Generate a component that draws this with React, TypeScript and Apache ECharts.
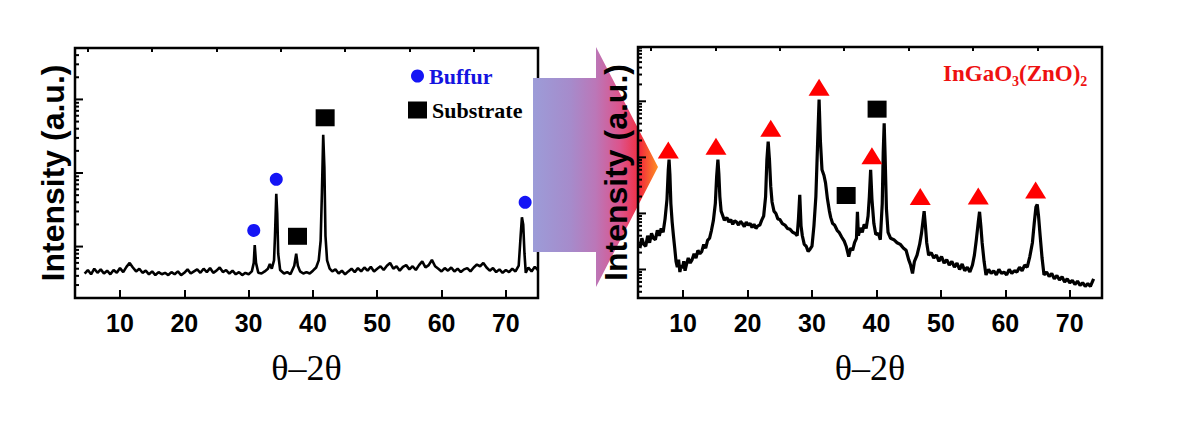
import React, { useEffect, useRef } from "react";
import * as echarts from "echarts";

// ---------- data (2θ in degrees, intensity in a.u.) ----------
const xMajorTicks = [10, 20, 30, 40, 50, 60, 70];
const xMinorTicks = [5, 15, 25, 35, 45, 55, 65];

const leftMajorY = [10, 100, 1000];
const leftMinorY = [3, 4, 5, 6, 7, 8, 9, 20, 30, 40, 50, 60, 70, 80, 90, 200, 300, 400, 500, 600, 700, 800, 900, 2000, 3000, 4000];
const rightMajorY = [10, 100, 1000, 10000];
const rightMinorY = [4, 5, 6, 7, 8, 9, 20, 30, 40, 50, 60, 70, 80, 90, 200, 300, 400, 500, 600, 700, 800, 900, 2000, 3000, 4000, 5000, 6000, 7000, 8000, 9000, 20000, 30000, 40000, 50000, 60000, 70000, 80000, 90000];

const bufferPattern = [
  [4.5, 4.3], [5, 4.8], [5.5, 4.2], [6, 5.0], [6.5, 4.4], [7, 4.9], [7.5, 4.3], [8, 4.7], [8.5, 4.2], [9, 4.8],
  [9.5, 4.4], [10, 5.1], [10.5, 4.5], [11, 5.3], [11.5, 6.0], [12, 5.2], [12.5, 4.6], [13, 5.0], [13.5, 4.4], [14, 4.7],
  [14.5, 4.2], [15, 4.6], [15.5, 4.1], [16, 4.5], [16.5, 4.2], [17, 4.4], [17.5, 4.1], [18, 4.5], [18.5, 4.2], [19, 4.6],
  [19.5, 4.1], [20, 4.4], [20.5, 4.9], [21, 4.3], [21.5, 4.6], [22, 4.9], [22.5, 4.4], [23, 5.0], [23.5, 4.5], [24, 5.1],
  [24.5, 4.4], [25, 4.7], [25.5, 5.2], [26, 4.5], [26.5, 4.8], [27, 4.3], [27.5, 4.7], [28, 4.2], [28.5, 4.5], [29, 4.1],
  [29.5, 4.4], [30, 4.2], [30.5, 4.6], [30.8, 6], [30.95, 10.5], [31.15, 6], [31.5, 4.4], [32, 4.3], [32.5, 4.6], [33, 5.0],
  [33.3, 5.8], [33.6, 5.0], [33.95, 6.5], [34.1, 14], [34.3, 52], [34.45, 28], [34.6, 8], [34.9, 4.8], [35.5, 4.3], [36, 4.5],
  [36.5, 4.2], [37.1, 5.5], [37.4, 8.0], [37.65, 5.5], [38, 4.6], [38.5, 4.3], [39, 4.5], [39.5, 4.3], [40, 4.7], [40.5, 5.2],
  [40.9, 6.5], [41.2, 12], [41.4, 55], [41.6, 330], [41.78, 120], [41.95, 14], [42.2, 6.5], [42.6, 5.0], [43, 4.6], [43.5, 4.9],
  [44, 4.3], [44.5, 4.7], [45, 4.2], [45.5, 4.6], [46, 5.0], [46.5, 4.5], [47, 5.1], [47.5, 4.6], [48, 5.2], [48.5, 4.7],
  [49, 5.3], [49.5, 4.6], [50, 5.0], [50.5, 5.4], [51, 4.8], [51.5, 5.5], [52, 6.0], [52.5, 5.0], [53, 5.4], [53.5, 4.7],
  [54, 5.3], [54.5, 5.6], [55, 4.9], [55.5, 5.4], [56, 4.8], [56.5, 5.6], [57, 6.3], [57.5, 5.2], [58, 5.6], [58.5, 6.6],
  [59, 5.4], [59.5, 5.0], [60, 4.6], [60.5, 5.1], [61, 4.7], [61.5, 5.2], [62, 4.6], [62.5, 5.0], [63, 4.5], [63.5, 4.9],
  [64, 5.1], [64.5, 4.6], [65, 5.2], [65.5, 5.7], [66, 5.4], [66.5, 6.0], [67, 5.2], [67.5, 4.7], [68, 5.1], [68.5, 4.5],
  [69, 4.9], [69.5, 4.4], [70, 4.8], [70.5, 4.5], [71, 5.0], [71.5, 4.6], [72, 5.5], [72.3, 14], [72.5, 25], [72.7, 20],
  [72.9, 8], [73.1, 4.4], [73.5, 5.2], [74, 4.6], [74.5, 5.3], [75, 4.8]
];

const igzoPattern = [
  [3.3, 24], [3.6, 36], [3.9, 28], [4.2, 26], [4.5, 40], [4.8, 30], [5.1, 44], [5.4, 36], [5.7, 34], [6.0, 50],
  [6.3, 40], [6.6, 54], [6.9, 46], [7.2, 80], [7.5, 180], [7.7, 600], [7.82, 910], [7.95, 500], [8.1, 150], [8.3, 70],
  [8.5, 40], [8.7, 24], [8.9, 14], [9.1, 11], [9.3, 15], [9.5, 9], [9.7, 12], [9.9, 10.5], [10.1, 14], [10.3, 9.5],
  [10.5, 12], [10.8, 16], [11.1, 13], [11.4, 15], [11.7, 19], [12.0, 16], [12.3, 22], [12.6, 19], [12.9, 21], [13.2, 28],
  [13.5, 24], [13.8, 33], [14.1, 36], [14.4, 50], [14.7, 75], [15.0, 150], [15.2, 450], [15.4, 910], [15.55, 500], [15.7, 200],
  [15.9, 110], [16.1, 95], [16.4, 76], [16.8, 84], [17.1, 70], [17.4, 78], [17.7, 64], [18.0, 74], [18.3, 70], [18.6, 62],
  [18.9, 72], [19.2, 66], [19.5, 58], [19.8, 70], [20.1, 62], [20.4, 66], [20.7, 56], [21.0, 64], [21.3, 54], [21.6, 60],
  [21.9, 62], [22.2, 76], [22.5, 90], [22.8, 200], [23.0, 900], [23.2, 1900], [23.4, 900], [23.6, 300], [23.8, 160], [24.1, 110],
  [24.4, 100], [24.7, 80], [25.0, 78], [25.4, 66], [25.8, 62], [26.2, 54], [26.6, 52], [27.0, 46], [27.4, 44], [27.7, 40],
  [27.9, 80], [28.1, 214], [28.3, 60], [28.5, 40], [28.8, 28], [29.1, 26], [29.4, 21], [29.7, 23], [30.0, 26], [30.3, 60],
  [30.6, 200], [30.85, 1500], [31.1, 10700], [31.3, 2000], [31.55, 600], [31.85, 480], [32.1, 350], [32.4, 180], [32.7, 110], [32.9, 85],
  [33.2, 66], [33.5, 62], [33.9, 50], [34.2, 46], [34.6, 38], [35.0, 32], [35.3, 26], [35.7, 17], [36.0, 24], [36.3, 22],
  [36.6, 30], [36.9, 36], [37.05, 107], [37.2, 40], [37.5, 55], [37.8, 46], [38.1, 64], [38.4, 54], [38.7, 90], [38.9, 200],
  [39.1, 600], [39.3, 180], [39.6, 66], [39.9, 42], [40.3, 44], [40.6, 34], [40.9, 150], [41.05, 1200], [41.2, 4070], [41.35, 1000],
  [41.55, 120], [41.8, 46], [42.2, 36], [42.7, 34], [43.2, 30], [43.7, 28], [44.2, 24], [44.6, 22], [45.0, 15], [45.3, 12],
  [45.6, 8.5], [45.9, 14], [46.3, 18], [46.7, 28], [47.0, 45], [47.2, 70], [47.4, 110], [47.6, 60], [47.8, 30], [48.1, 18],
  [48.5, 20], [48.9, 16], [49.3, 18], [49.7, 14], [50.1, 17], [50.5, 13], [50.9, 15], [51.3, 12], [51.7, 14], [52.1, 11],
  [52.5, 13], [52.9, 10], [53.3, 12.5], [53.7, 9.5], [54.1, 11], [54.5, 9], [54.9, 12], [55.2, 18], [55.5, 34], [55.8, 70],
  [56.0, 107], [56.2, 60], [56.4, 30], [56.7, 14], [57.0, 8], [57.4, 10], [57.8, 8.5], [58.2, 9.5], [58.6, 8], [59.0, 10],
  [59.4, 8.5], [59.8, 9], [60.2, 8], [60.6, 10], [61.0, 8.5], [61.4, 9.5], [61.8, 9], [62.2, 11], [62.6, 9.5], [63.0, 12],
  [63.4, 11], [63.8, 17], [64.2, 30], [64.5, 70], [64.75, 130], [64.95, 145], [65.15, 90], [65.4, 40], [65.7, 16], [66.0, 8],
  [66.4, 9], [66.8, 7.5], [67.2, 8.5], [67.6, 6.8], [68.0, 7.8], [68.4, 6.5], [68.8, 7.4], [69.2, 6], [69.6, 6.8], [70.0, 5.8],
  [70.4, 6.4], [70.8, 5.4], [71.2, 6.2], [71.6, 5.2], [72.0, 5.8], [72.4, 5], [72.8, 5.6], [73.2, 5], [73.7, 6.8]
];

// peak annotations
const bufferMarks = [[30.8, 16.6], [34.3, 82], [73.0, 40]];
const substrateMarksLeft = [[37.6, 13.8], [41.9, 563]];
const substrateMarksRight = [[35.3, 209], [40.1, 7244]];
const igzoMarks = [[7.7, 1349], [15.1, 1585], [23.6, 3311], [31.1, 17783], [39.3, 1072], [46.8, 200], [55.8, 204], [64.7, 263]];

const X_MIN = 3;
const X_MAX = 75;

const SANS = "'Liberation Sans', Arial, sans-serif";
const SERIF = "'Liberation Serif', 'Times New Roman', serif";

function yTicks(xi: number, yi: number, vals: number[], len: number, z: number) {
  return {
    type: "custom",
    xAxisIndex: xi,
    yAxisIndex: yi,
    silent: true,
    z,
    data: vals.map((v) => [X_MIN, v]),
    renderItem: (params: any, api: any) => {
      const p = api.coord([api.value(0), api.value(1)]);
      return {
        type: "line",
        shape: { x1: p[0], y1: p[1], x2: p[0] + len, y2: p[1] },
        style: { stroke: "#000", lineWidth: 2 },
      };
    },
  };
}

function xAxisPair(gridIndex: number, z: number) {
  return [
    {
      type: "value",
      gridIndex,
      min: X_MIN,
      max: X_MAX,
      z,
      axisLine: { show: false },
      splitLine: { show: false },
      axisTick: { show: true, inside: true, length: 8, lineStyle: { color: "#000", width: 2 }, customValues: xMajorTicks },
      axisLabel: {
        customValues: xMajorTicks,
        color: "#000",
        fontFamily: SANS,
        fontWeight: "bold",
        fontSize: 25,
        margin: 12,
      },
      name: "θ–2θ",
      nameLocation: "middle",
      nameGap: 52,
      nameTextStyle: { fontFamily: SERIF, fontSize: 36, color: "#000" },
    },
    {
      type: "value",
      gridIndex,
      min: X_MIN,
      max: X_MAX,
      z,
      axisLine: { show: false },
      splitLine: { show: false },
      axisTick: { show: true, inside: true, length: 4, lineStyle: { color: "#000", width: 2 }, customValues: xMinorTicks },
      axisLabel: { show: false },
    },
  ];
}

function yAxisDef(gridIndex: number, min: number, max: number, z: number) {
  return {
    type: "log",
    logBase: 10,
    gridIndex,
    min,
    max,
    z,
    axisLine: { show: false },
    axisTick: { show: false },
    axisLabel: { show: false },
    splitLine: { show: false },
    name: "Intensity (a.u.)",
    nameLocation: "middle",
    nameRotate: 90,
    nameGap: 6,
    nameTextStyle: { fontFamily: SANS, fontWeight: "bold", fontSize: 32, color: "#000" },
  };
}

export default function App() {
  const ref = useRef<HTMLDivElement>(null);

  useEffect(() => {
    if (!ref.current) return;
    const chart = echarts.init(ref.current, undefined, { renderer: "svg" });

    const arrowFill = new echarts.graphic.LinearGradient(0, 0, 1, 0, [
      { offset: 0, color: "#9c9cd8" },
      { offset: 0.3, color: "#a68bcb" },
      { offset: 0.5, color: "#bb77b8" },
      { offset: 0.7, color: "#dd538b" },
      { offset: 0.86, color: "#f22c3c" },
      { offset: 1, color: "#ff9020" },
    ]);

    const option: any = {
      animation: false,
      backgroundColor: "#fff",
      textStyle: { fontFamily: SANS },
      grid: [
        { left: 75, top: 48, width: 463, height: 250, show: true, borderColor: "#000", borderWidth: 2.5, z: 0 },
        { left: 638, top: 47, width: 464, height: 251, show: true, borderColor: "#000", borderWidth: 2.5, z: 3 },
      ],
      xAxis: [...xAxisPair(0, 0), ...xAxisPair(1, 4)],
      yAxis: [yAxisDef(0, 2, 5000, 0), yAxisDef(1, 3.1, 93000, 4)],
      legend: [
        {
          left: 406,
          top: 60,
          itemWidth: 13,
          itemHeight: 13,
          selectedMode: false,
          data: [{ name: "Buffur", textStyle: { color: "#1414e0" } }],
          textStyle: { fontFamily: SERIF, fontWeight: "bold", fontSize: 22 },
        },
        {
          left: 403,
          top: 94,
          itemWidth: 19,
          itemHeight: 17,
          selectedMode: false,
          data: [{ name: "Substrate", textStyle: { color: "#000" } }],
          textStyle: { fontFamily: SERIF, fontWeight: "bold", fontSize: 22 },
        },
        {
          left: 933,
          top: 57,
          itemWidth: 0,
          itemHeight: 0,
          selectedMode: false,
          data: [{ name: "InGaO3(ZnO)2", icon: "none" }],
          formatter: () => "{m|InGaO}{s|3}{m|(ZnO)}{s|2}",
          textStyle: {
            rich: {
              m: { fontFamily: SERIF, fontWeight: "bold", fontSize: 23, color: "#ee1111", lineHeight: 29, verticalAlign: "middle" },
              s: { fontFamily: SERIF, fontWeight: "bold", fontSize: 14, color: "#ee1111", lineHeight: 29, verticalAlign: "bottom" },
            },
          },
        },
      ],
      graphic: [
        {
          type: "polygon",
          z: 2,
          silent: true,
          shape: { points: [[533, 78], [596, 78], [596, 47], [658, 167], [596, 287], [596, 252], [533, 252]] },
          style: { fill: arrowFill },
        },
      ],
      series: [
        {
          type: "line",
          name: "buffer pattern",
          xAxisIndex: 0,
          yAxisIndex: 0,
          data: bufferPattern,
          showSymbol: false,
          z: 1,
          lineStyle: { color: "#000", width: 2.6 },
        },
        {
          type: "line",
          name: "IGZO pattern",
          xAxisIndex: 2,
          yAxisIndex: 1,
          data: igzoPattern,
          showSymbol: false,
          z: 4,
          lineStyle: { color: "#000", width: 3.2 },
        },
        {
          type: "scatter",
          name: "Buffur",
          xAxisIndex: 0,
          yAxisIndex: 0,
          data: bufferMarks,
          symbol: "circle",
          symbolSize: 13,
          z: 1,
          itemStyle: { color: "#1515f5", opacity: 1 },
        },
        {
          type: "scatter",
          name: "Substrate",
          xAxisIndex: 0,
          yAxisIndex: 0,
          data: substrateMarksLeft,
          symbol: "rect",
          symbolSize: [19, 17],
          z: 1,
          itemStyle: { color: "#000", opacity: 1 },
        },
        {
          type: "scatter",
          name: "Substrate",
          xAxisIndex: 2,
          yAxisIndex: 1,
          data: substrateMarksRight,
          symbol: "rect",
          symbolSize: [19, 17],
          z: 5,
          itemStyle: { color: "#000", opacity: 1 },
        },
        {
          type: "scatter",
          name: "InGaO3(ZnO)2",
          xAxisIndex: 2,
          yAxisIndex: 1,
          data: igzoMarks,
          symbol: "triangle",
          symbolSize: [21, 17],
          z: 5,
          itemStyle: { color: "#ff0000", opacity: 1 },
        },
        yTicks(0, 0, leftMajorY, 8, 1),
        yTicks(0, 0, leftMinorY, 4, 1),
        yTicks(2, 1, rightMajorY, 8, 5),
        yTicks(2, 1, rightMinorY, 4, 5),
      ],
    };

    chart.setOption(option);
    return () => chart.dispose();
  }, []);

  return (
    <div
      ref={ref}
      style={{ position: "absolute", left: 0, top: 0, width: 1180, height: 423, background: "#fff" }}
    />
  );
}
